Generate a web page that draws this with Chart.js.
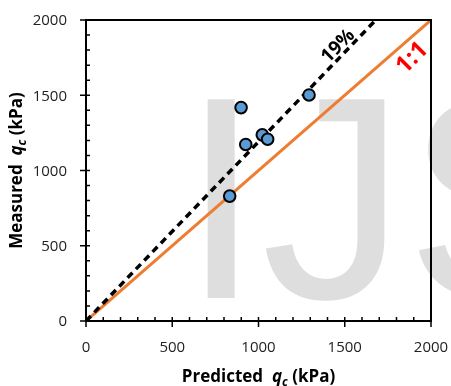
<!DOCTYPE html>
<html lang="en">
<head>
<meta charset="UTF-8" />
<title>Predicted vs Measured qc</title>
<script src="https://cdn.jsdelivr.net/npm/chart.js"></script>
<style>
  body { margin: 0; background: #fff; }
  canvas { display: block; }
</style>
</head>
<body>
<canvas id="chart" width="451" height="386"></canvas>
<script>
  // measured vs predicted cone resistance (kPa)
  const predicted = [833, 899, 926, 1022, 1053, 1293];
  const measured = [830, 1418, 1173, 1237, 1208, 1502];

  // reference lines
  const oneToOneX = [0, 2000];
  const oneToOneY = [0, 2000];
  const trendX = [0, 1680];
  const trendY = [0, 2000];

  const tickLabels = [0, 500, 1000, 1500, 2000];
  const axisMin = 0;
  const axisMax = 2000;
  const minorStep = 100;

  const FONT = '"Open Sans", "DejaVu Sans", sans-serif';

  const toPoints = (xs, ys) => xs.map((v, i) => ({ x: v, y: ys[i] }));

  // big grey watermark behind everything
  const watermark = {
    id: 'watermark',
    beforeDraw(chart) {
      const ctx = chart.ctx;
      ctx.save();
      ctx.fillStyle = '#dedede';
      ctx.font = '289px "Liberation Sans", Arial, sans-serif';
      ctx.textBaseline = 'alphabetic';
      ctx.fillText('IJS', 181, 298);
      ctx.restore();
    }
  };

  // box around plot, excel-like tick marks and the tick numbers
  const frameTicks = {
    id: 'frameTicks',
    afterDraw(chart) {
      const { ctx, chartArea: a, scales: { x, y } } = chart;
      ctx.save();
      ctx.strokeStyle = '#000';
      ctx.lineWidth = 2;
      ctx.strokeRect(a.left, a.top, a.right - a.left, a.bottom - a.top);
      ctx.lineWidth = 1.5;
      for (let v = axisMin; v <= axisMax; v += minorStep) {
        const major = tickLabels.includes(v);
        const px = x.getPixelForValue(v);
        const py = y.getPixelForValue(v);
        ctx.beginPath();
        ctx.moveTo(px, a.bottom + (major ? 6 : 0));
        ctx.lineTo(px, a.bottom - 4);
        ctx.moveTo(a.left - (major ? 6 : 0), py);
        ctx.lineTo(a.left + 4, py);
        ctx.stroke();
      }
      ctx.fillStyle = '#222';
      ctx.font = '15px ' + FONT;
      ctx.textBaseline = 'middle';
      tickLabels.forEach(v => {
        ctx.textAlign = 'center';
        ctx.fillText(String(v), x.getPixelForValue(v), a.bottom + 27);
        ctx.textAlign = 'right';
        ctx.fillText(String(v), a.left - 19, y.getPixelForValue(v) + 1);
      });
      ctx.restore();
    }
  };

  function drawRich(ctx, parts, cx, cy, angle) {
    ctx.save();
    ctx.translate(cx, cy);
    ctx.rotate(angle);
    let total = 0;
    parts.forEach(p => { ctx.font = p.font; p.w = ctx.measureText(p.text).width; total += p.w; });
    let xPos = -total / 2;
    ctx.textBaseline = 'alphabetic';
    parts.forEach(p => {
      ctx.font = p.font;
      ctx.fillStyle = p.color || '#000';
      ctx.fillText(p.text, xPos, p.dy || 0);
      xPos += p.w;
    });
    ctx.restore();
  }

  const qcTitle = (lead) => [
    { text: lead + '  ', font: 'bold 17px ' + FONT },
    { text: 'q', font: 'italic bold 17px ' + FONT },
    { text: 'c', font: 'italic bold 12px ' + FONT, dy: 4 },
    { text: ' (kPa)', font: 'bold 17px ' + FONT }
  ];

  const titles = {
    id: 'titles',
    afterDraw(chart) {
      const { ctx, chartArea: a, scales: { x, y } } = chart;
      drawRich(ctx, qcTitle('Predicted'), (a.left + a.right) / 2, 382, 0);
      drawRich(ctx, qcTitle('Measured'), 22, (a.top + a.bottom) / 2, -Math.PI / 2);
      // line labels
      drawRich(ctx, [{ text: '19%', font: 'bold 19px ' + FONT }],
        x.getPixelForValue(1484), y.getPixelForValue(1801), -Math.PI / 4);
      drawRich(ctx, [{ text: '1:1', font: 'bold 24px ' + FONT, color: '#ff0000' }],
        x.getPixelForValue(1919), y.getPixelForValue(1715), -Math.PI / 4);
    }
  };

  new Chart(document.getElementById('chart'), {
    type: 'scatter',
    data: {
      datasets: [
        {
          label: 'Data',
          data: toPoints(predicted, measured),
          backgroundColor: '#5b9bd5',
          borderColor: '#000',
          borderWidth: 2,
          pointRadius: 5.8,
          order: 0
        },
        {
          label: '19%',
          data: toPoints(trendX, trendY),
          showLine: true,
          borderColor: '#000',
          borderWidth: 3.5,
          borderDash: [7, 5],
          pointRadius: 0,
          order: 1
        },
        {
          label: '1:1',
          data: toPoints(oneToOneX, oneToOneY),
          showLine: true,
          borderColor: '#ed7d31',
          borderWidth: 3,
          pointRadius: 0,
          order: 2
        }
      ]
    },
    options: {
      responsive: false,
      animation: false,
      layout: { padding: { left: 0, top: 20, right: 20, bottom: 0 } },
      plugins: {
        legend: { display: false },
        tooltip: { enabled: false }
      },
      scales: {
        x: {
          type: 'linear',
          min: axisMin,
          max: axisMax,
          grid: { display: false, drawTicks: false },
          border: { display: false },
          ticks: { display: false },
          afterFit: s => { s.height = 65; }
        },
        y: {
          type: 'linear',
          min: axisMin,
          max: axisMax,
          grid: { display: false, drawTicks: false },
          border: { display: false },
          ticks: { display: false },
          afterFit: s => { s.width = 86; }
        }
      }
    },
    plugins: [watermark, frameTicks, titles]
  });
</script>
</body>
</html>
